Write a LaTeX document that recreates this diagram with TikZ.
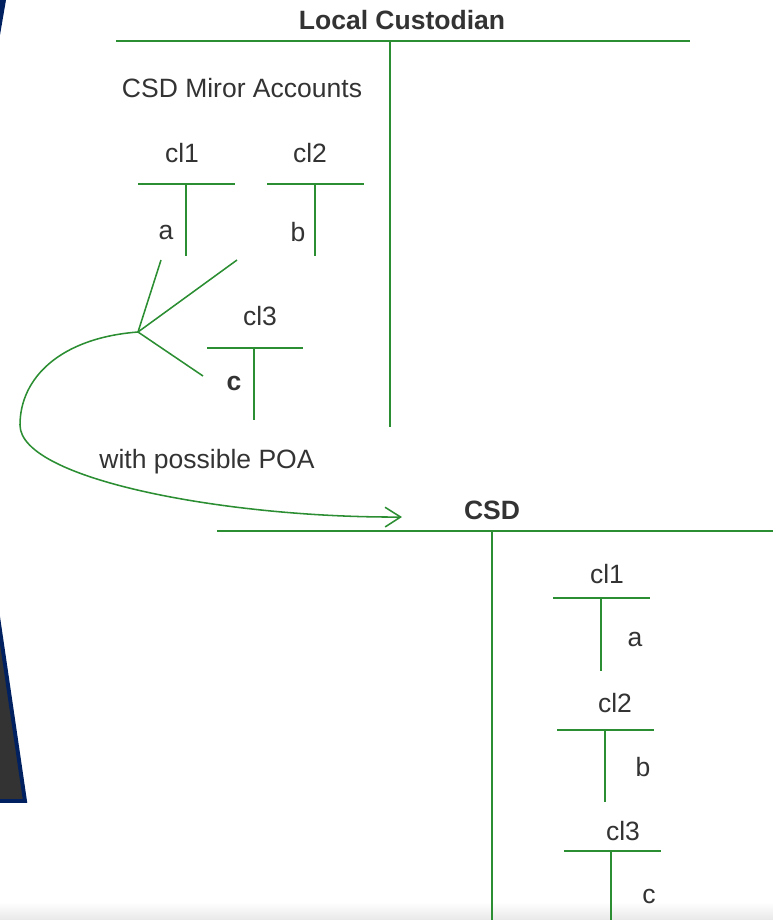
\documentclass[tikz,border=0pt]{standalone}
\usepackage{fontspec}
\setmainfont{Liberation Sans}
\usetikzlibrary{arrows.meta}
\definecolor{acctgreen}{RGB}{44,142,50}
\definecolor{txtgrey}{RGB}{51,51,51}
\definecolor{slidenavy}{RGB}{0,32,96}
\definecolor{slidedark}{RGB}{51,51,51}
\tikzset{
  lbl/.style={text=txtgrey, font=\fontsize{18.85}{22}\selectfont, inner sep=0pt},
  bold lbl/.style={lbl, font=\fontsize{18.85}{22}\selectfont\bfseries},
  bigline/.style={draw=acctgreen, line width=1.5pt},
  thickline/.style={draw=acctgreen, line width=2.1pt},
  fanline/.style={draw=acctgreen, line width=1.1pt}
}

\begin{document}
\begin{tikzpicture}[x=0.025cm,y=-0.025cm]
\useasboundingbox (0,0) rectangle (773,920);
%slide
\shade[top color=white,bottom color=black!9] (0,902) rectangle (773,920);
\fill[slidenavy] (0,0) -- (6,0) -- (0,35) -- cycle;
\filldraw[fill=slidedark,draw=slidenavy,line width=2.8pt] (-4,603) -- (25,801) -- (-4,801) -- cycle;
%local custodian
\node[bold lbl] (lc) at (402,20) {Local Custodian};
\coordinate (lcL) at (116,41);
\coordinate (lcR) at (690,41);
\coordinate (lcT) at (390,41);
\coordinate (lcB) at (390,427);
\draw[bigline] (lcL) -- (lcR);
\draw[bigline] (lcT) -- (lcB);
\node[lbl] (mirror) at (242,88) {CSD Miror Accounts};
%mirror accounts
\node[lbl] (mcl1) at (182,153) {cl1};
\draw[thickline] (138,184) coordinate (mcl1L) -- (235,184) coordinate (mcl1R);
\draw[bigline] (186,184) coordinate (mcl1T) -- (186,256) coordinate (mcl1B);
\node[lbl] (ma) at (166,232) {a};
\node[lbl] (mcl2) at (310,153) {cl2};
\draw[thickline] (267,184) coordinate (mcl2L) -- (364,184) coordinate (mcl2R);
\draw[bigline] (315,184) coordinate (mcl2T) -- (315,256) coordinate (mcl2B);
\node[lbl] (mb) at (298,232) {b};
\node[lbl] (mcl3) at (260,316) {cl3};
\draw[thickline] (207,348) coordinate (mcl3L) -- (303,348) coordinate (mcl3R);
\draw[bigline] (254,348) coordinate (mcl3T) -- (254,420) coordinate (mcl3B);
\node[bold lbl] (mc) at (234,383) {c};
%fan and arrow
\coordinate (hub) at (138,332);
\coordinate (fanA) at (161,260);
\coordinate (fanB) at (237,260);
\coordinate (fanC) at (203,376);
\coordinate (loop) at (20,425);
\coordinate (poaEnd) at (402,517);
\draw[fanline] (hub) -- (fanA);
\draw[fanline] (hub) -- (fanB);
\draw[fanline] (hub) -- (fanC);
\draw[fanline,-{Straight Barb[length=11pt,width=14pt]}] (hub) .. controls (60,338) and (20,378) .. (loop)
  .. controls (20,480) and (230,518) .. (poaEnd);
\node[lbl] (poa) at (207,462) {with possible POA};
%csd
\node[bold lbl] (csd) at (492,510) {CSD};
\coordinate (csdL) at (217,531);
\coordinate (csdR) at (773,531);
\coordinate (csdT) at (492,531);
\coordinate (csdB) at (492,920);
\draw[bigline] (csdL) -- (csdR);
\draw[thickline] (csdT) -- (csdB);
%csd accounts
\node[lbl] (ccl1) at (607,574) {cl1};
\draw[bigline] (553,598) coordinate (ccl1L) -- (650,598) coordinate (ccl1R);
\draw[bigline] (601,598) coordinate (ccl1T) -- (601,671) coordinate (ccl1B);
\node[lbl] (ca) at (635,639) {a};
\node[lbl] (ccl2) at (615,703) {cl2};
\draw[bigline] (557,730) coordinate (ccl2L) -- (654,730) coordinate (ccl2R);
\draw[thickline] (605,730) coordinate (ccl2T) -- (605,802) coordinate (ccl2B);
\node[lbl] (cb) at (643,767) {b};
\node[lbl] (ccl3) at (623,831) {cl3};
\draw[bigline] (564,851) coordinate (ccl3L) -- (661,851) coordinate (ccl3R);
\draw[thickline] (611,851) coordinate (ccl3T) -- (611,920) coordinate (ccl3B);
\node[lbl] (cc) at (649,896) {c};
\end{tikzpicture}
\end{document}
